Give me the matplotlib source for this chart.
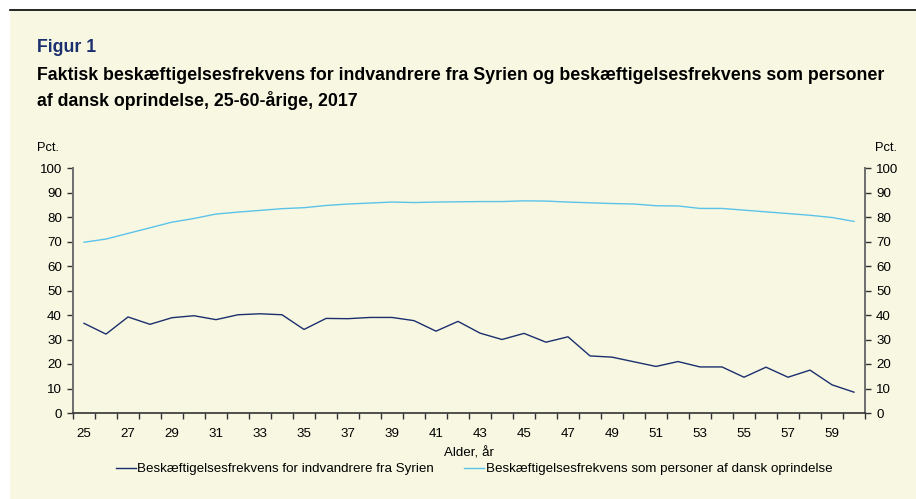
import numpy as np
import matplotlib
matplotlib.use('Agg')
import matplotlib.pyplot as plt
from matplotlib.patches import Rectangle
from matplotlib.lines import Line2D

plt.rcParams['font.family'] = ['Liberation Sans', 'DejaVu Sans']

ages = list(range(25, 61))
syrien = [36.6, 32.2, 39.2, 36.2, 38.9, 39.7, 38.1, 40.1, 40.5, 40.1,
          34.1, 38.6, 38.5, 39.0, 39.0, 37.7, 33.4, 37.4, 32.6, 30.0,
          32.5, 28.9, 31.1, 23.3, 22.8, 20.9, 19.0, 21.0, 18.8, 18.8,
          14.6, 18.7, 14.6, 17.5, 11.5, 8.5]
dansk = [69.7, 71.0, 73.3, 75.6, 77.9, 79.4, 81.2, 82.0, 82.7, 83.4,
         83.8, 84.7, 85.3, 85.7, 86.1, 85.9, 86.1, 86.2, 86.3, 86.3,
         86.6, 86.5, 86.1, 85.8, 85.5, 85.3, 84.6, 84.5, 83.5, 83.5,
         82.8, 82.1, 81.4, 80.7, 79.8, 78.2]
label_syrien = 'Beskæftigelsesfrekvens for indvandrere fra Syrien'
label_dansk = 'Beskæftigelsesfrekvens som personer af dansk oprindelse'

W, H = 916, 499
bg = '#F8F8E2'
navy = '#1B2F6E'
light = '#5BC3EA'

fig = plt.figure(figsize=(W / 100, H / 100), dpi=100)
fig.patch.set_facecolor('white')
fig.patches.append(Rectangle((10 / W, 0), 1 - 10 / W, 1 - 10 / H, transform=fig.transFigure,
                             facecolor=bg, edgecolor='none', zorder=-5))
fig.lines.append(Line2D([10 / W, 1], [1 - 10 / H, 1 - 10 / H], transform=fig.transFigure,
                        color='black', lw=1.2, zorder=-4))

title_size = 12.8
fig.text(37 / W, 1 - 48 / H, 'Figur 1', color=navy, fontsize=title_size, fontweight='bold', va='center')
fig.text(37 / W, 1 - 76 / H,
         'Faktisk beskæftigelsesfrekvens for indvandrere fra Syrien og beskæftigelsesfrekvens som personer',
         fontsize=title_size, fontweight='bold', va='center')
fig.text(37 / W, 1 - 101 / H, 'af dansk oprindelse, 25-60-årige, 2017',
         fontsize=title_size, fontweight='bold', va='center')

ax = fig.add_axes([73 / W, 1 - 413 / H, (865 - 73) / W, (413 - 168) / H])
ax.set_facecolor('none')
ax.plot(ages, syrien, color=navy, lw=1.0)
ax.plot(ages, dansk, color=light, lw=1.0)

ax.set_xlim(24.5, 60.5)
ax.set_ylim(0, 100)
ax.set_yticks(np.arange(0, 101, 10))
ax.set_xticks(np.arange(24.5, 61, 1))
ax.set_xticklabels([])
ax.set_xticks(np.arange(25, 61, 2), minor=True)
ax.set_xticklabels([str(a) for a in range(25, 61, 2)], minor=True)
ax.tick_params(axis='x', which='major', length=4, width=1, color='#333333')
ax.tick_params(axis='x', which='minor', length=0, pad=11, labelsize=9.6)
ax.tick_params(axis='y', which='major', length=4, width=1, color='#333333', labelsize=9.6,
               left=True, right=True, labelleft=True, labelright=True, pad=4)

ax.spines['top'].set_visible(False)
ax.spines['left'].set_color('#6E6E6E')
ax.spines['right'].set_color('#6E6E6E')
ax.spines['left'].set_linewidth(1.4)
ax.spines['right'].set_linewidth(1.4)
ax.spines['bottom'].set_color('#333333')
ax.spines['bottom'].set_linewidth(1.2)

ax.set_xlabel('Alder, år', fontsize=9.6, labelpad=5)
fig.text(37 / W, 1 - 148 / H, 'Pct.', fontsize=9.3, va='center')
fig.text(875 / W, 1 - 148 / H, 'Pct.', fontsize=9.3, va='center')

ax.legend(handles=[Line2D([], [], color=navy, lw=1.0, label=label_syrien),
                   Line2D([], [], color=light, lw=1.0, label=label_dansk)],
          loc='center', bbox_to_anchor=(474 / W, 1 - 469 / H), bbox_transform=fig.transFigure,
          ncol=2, frameon=False, fontsize=9.6, handlelength=1.5, handletextpad=0.1,
          columnspacing=2.3)

fig.savefig('out.png', dpi=100, facecolor=fig.get_facecolor())
